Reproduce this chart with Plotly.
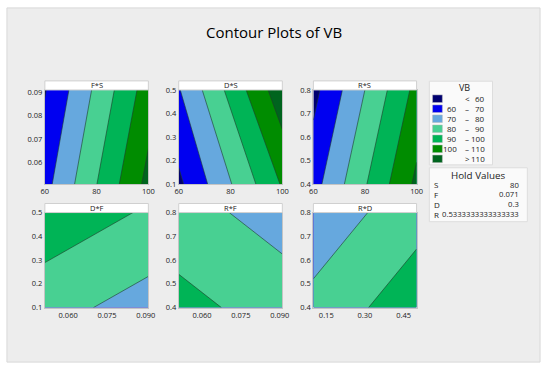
import plotly.graph_objects as go

W, H = 550, 371

# ---- data ----
S_range = [60, 100]
F_range = [0.051, 0.091]
D_range = [0.1, 0.5]
R_range = [0.4, 0.8]

# z grids: rows = y (low, high), cols = x (low, high)
z_FS = [[66.7, 113.0], [59.4, 105.0]]
z_DS = [[58.0, 101.0], [69.3, 116.5]]
z_RS = [[66.2, 112.1], [57.1, 103.0]]
z_DF = [[83.8, 75.7], [96.9, 88.8]]
z_RF = [[93.3, 85.3], [83.9, 75.9]]
z_RD = [[83.0, 96.1], [73.1, 86.2]]

levels = [60, 70, 80, 90, 100, 110]
legend_labels = [("", "<", "60"), ("60", "–", "70"), ("70", "–", "80"),
                 ("80", "–", "90"), ("90", "–", "100"), ("100", "–", "110"),
                 ("", ">", "110")]
band_colors = ['#000070', '#0000F0', '#66A8DE', '#48D092', '#00B456', '#008C00', '#00641E']

hold_names = ["S", "F", "D", "R"]
hold_values = ["80", "0.071", "0.3", "0.5333333333333333"]

panels = [
    ("F*S", S_range, F_range, z_FS, [60, 80, 100], ["60", "80", "100"],
     [0.06, 0.07, 0.08, 0.09], ["0.06", "0.07", "0.08", "0.09"]),
    ("D*S", S_range, D_range, z_DS, [60, 80, 100], ["60", "80", "100"],
     [0.1, 0.2, 0.3, 0.4, 0.5], ["0.1", "0.2", "0.3", "0.4", "0.5"]),
    ("R*S", S_range, R_range, z_RS, [60, 80, 100], ["60", "80", "100"],
     [0.4, 0.5, 0.6, 0.7, 0.8], ["0.4", "0.5", "0.6", "0.7", "0.8"]),
    ("D*F", F_range, D_range, z_DF, [0.06, 0.075, 0.09], ["0.060", "0.075", "0.090"],
     [0.1, 0.2, 0.3, 0.4, 0.5], ["0.1", "0.2", "0.3", "0.4", "0.5"]),
    ("R*F", F_range, R_range, z_RF, [0.06, 0.075, 0.09], ["0.060", "0.075", "0.090"],
     [0.4, 0.5, 0.6, 0.7, 0.8], ["0.4", "0.5", "0.6", "0.7", "0.8"]),
    ("R*D", D_range, R_range, z_RD, [0.15, 0.30, 0.45], ["0.15", "0.30", "0.45"],
     [0.4, 0.5, 0.6, 0.7, 0.8], ["0.4", "0.5", "0.6", "0.7", "0.8"]),
]

# ---- layout geometry (pixels) ----
col_px = [(41.7, 147.3), (178.3, 284.0), (315.7, 421.0)]
row_px = [(87.3, 184.0), (213.3, 311.0)]
strip_h = 9.3

FONT = "Open Sans"
TXT = "#222222"

def px(x):
    return x / W

def py(y):
    return 1 - y / H

fig = go.Figure()
shapes = []
annotations = []

# background frame
shapes.append(dict(type="rect", xref="paper", yref="paper",
                   x0=px(3), x1=px(547), y0=py(367), y1=py(3),
                   fillcolor="#EDEDED", line=dict(color="#D8D8D8", width=1), layer="below"))

colorscale = [[i / 6, c] for i, c in enumerate(band_colors)]

for i, (name, xr, yr, z, xt, xtt, yt, ytt) in enumerate(panels):
    r, c = divmod(i, 3)
    x0, x1 = col_px[c]
    y0, y1 = row_px[r]
    ax = "" if i == 0 else str(i + 1)
    fig.add_trace(go.Contour(
        x=xr, y=yr, z=z,
        xaxis="x" + ax, yaxis="y" + ax,
        autocontour=False,
        contours=dict(start=levels[0], end=levels[-1], size=10,
                      coloring="fill", showlines=True),
        colorscale=colorscale, showscale=False,
        line=dict(color="#1E3A2A", width=0.6, smoothing=0),
        hoverinfo="skip",
    ))
    common = dict(showgrid=False, zeroline=False, showline=True, mirror=True,
                  linecolor="#C4C4C4", linewidth=1, ticks="",
                  tickfont=dict(family=FONT, size=7.5, color=TXT), fixedrange=True)
    fig.layout["xaxis" + ax] = dict(domain=[px(x0), px(x1)], range=xr,
                                    anchor="y" + ax, tickvals=xt, ticktext=xtt, **common)
    fig.layout["yaxis" + ax] = dict(domain=[py(y1), py(y0)], range=yr,
                                    anchor="x" + ax, tickvals=yt, ticktext=ytt, **common)
    # strip
    shapes.append(dict(type="rect", xref="paper", yref="paper",
                       x0=px(x0), x1=px(x1), y0=py(y0), y1=py(y0 - strip_h),
                       fillcolor="white", line=dict(color="#D0D0D0", width=1)))
    annotations.append(dict(xref="paper", yref="paper", x=px((x0 + x1) / 2),
                            y=py(y0 - strip_h / 2), text=name, showarrow=False,
                            font=dict(family=FONT, size=7.5, color=TXT),
                            xanchor="center", yanchor="middle"))

# title
annotations.append(dict(xref="paper", yref="paper", x=px(276), y=py(27.5),
                        text="Contour Plots of VB", showarrow=False,
                        font=dict(family=FONT, size=15, color="black"),
                        xanchor="center", yanchor="middle"))

# VB legend box
shapes.append(dict(type="rect", xref="paper", yref="paper",
                   x0=px(434), x1=px(498.5), y0=py(164.3), y1=py(78.3),
                   fillcolor="#FAFAFA", line=dict(color="#DDDDDD", width=1)))
annotations.append(dict(xref="paper", yref="paper", x=px(470), y=py(84.5),
                        text="VB", showarrow=False,
                        font=dict(family=FONT, size=9, color=TXT),
                        xanchor="center", yanchor="middle"))
for k, (lo, sym, hi) in enumerate(legend_labels):
    yc = 96.3 + k * 10.3
    shapes.append(dict(type="rect", xref="paper", yref="paper",
                       x0=px(437.3), x1=px(447.3), y0=py(yc + 3.9), y1=py(yc - 3.9),
                       fillcolor=band_colors[k], line=dict(color="#BBBBBB", width=0.5)))
    for txt, xx, anc in ((lo, 464.3, "right"), (sym, 472.7, "center"), (hi, 493, "right")):
        if txt:
            annotations.append(dict(xref="paper", yref="paper", x=px(xx), y=py(yc),
                                    text=txt, showarrow=False,
                                    font=dict(family=FONT, size=8, color=TXT),
                                    xanchor=anc, yanchor="middle"))

# Hold values box
shapes.append(dict(type="rect", xref="paper", yref="paper",
                   x0=px(434), x1=px(534), y0=py(222.7), y1=py(167.3),
                   fillcolor="#FAFAFA", line=dict(color="#DDDDDD", width=1)))
annotations.append(dict(xref="paper", yref="paper", x=px(484), y=py(175),
                        text="Hold Values", showarrow=False,
                        font=dict(family=FONT, size=9.8, color=TXT),
                        xanchor="center", yanchor="middle"))
for k, (n, v) in enumerate(zip(hold_names, hold_values)):
    yc = 184.5 + k * 10.2
    annotations.append(dict(xref="paper", yref="paper", x=px(437), y=py(yc),
                            text=n, showarrow=False,
                            font=dict(family=FONT, size=8, color=TXT),
                            xanchor="left", yanchor="middle"))
    annotations.append(dict(xref="paper", yref="paper", x=px(528), y=py(yc),
                            text=v, showarrow=False,
                            font=dict(family=FONT, size=7.7, color=TXT),
                            xanchor="right", yanchor="middle"))

fig.update_layout(width=W, height=H, margin=dict(l=0, r=0, t=0, b=0),
                  paper_bgcolor="white", plot_bgcolor="white",
                  shapes=shapes, annotations=annotations, showlegend=False,
                  font=dict(family=FONT))

fig.write_html("out.html", config={"displayModeBar": False},
               post_script="document.body.style.margin='0';document.body.style.overflow='hidden';")
